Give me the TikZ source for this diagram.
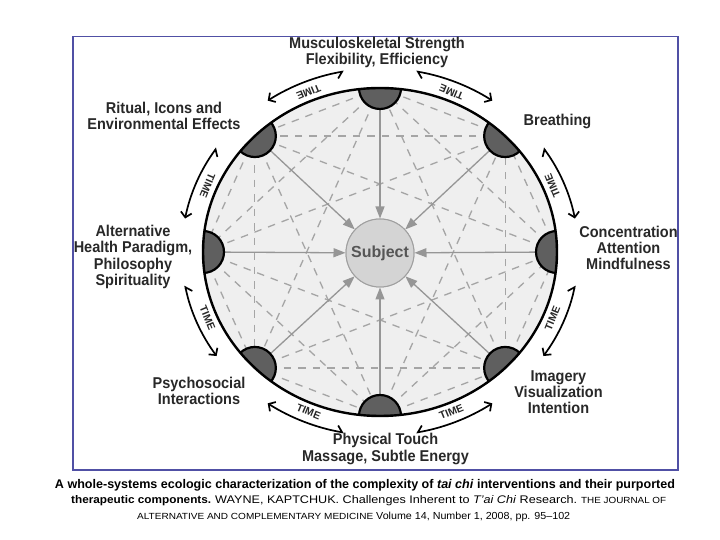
\documentclass[tikz,border=0pt]{standalone}
\usepackage{fontspec}
\setmainfont{Liberation Sans}
\usetikzlibrary{arrows.meta}
\definecolor{framecol}{RGB}{80,80,165}
\definecolor{innerfill}{RGB}{239,239,239}
\definecolor{chordgray}{RGB}{165,165,165}
\definecolor{radialgray}{RGB}{150,150,150}
\definecolor{nodefill}{RGB}{95,95,95}
\definecolor{labelgray}{RGB}{40,40,40}
\definecolor{hubfill}{RGB}{212,212,212}
\definecolor{hubline}{RGB}{160,160,160}
\definecolor{hubtext}{RGB}{85,85,85}
\tikzset{
  lbl/.style={font=\fontsize{14.5}{15.5}\selectfont\bfseries, text=labelgray, align=center, inner sep=0pt, yscale=1.08, transform shape},
  chord/.style={draw=chordgray, line width=1.3pt, dash pattern=on 7.5pt off 7pt},
  radial/.style={draw=radialgray, line width=1.3pt, -{Triangle[length=12pt,width=9pt]}},
  hub/.style={circle, minimum size=68pt, inner sep=0pt, fill=hubfill, draw=hubline, line width=1pt,
    font=\fontsize{16}{16}\selectfont\bfseries, text=hubtext},
  halfdisc/.style={fill=nodefill, draw=black, line width=2.2pt},
  rim/.style={draw=black, line width=2.4pt},
  timeL/.style={line width=1.7pt, {Straight Barb[harpoon,length=5pt,width=12pt]}-{Straight Barb[length=5pt,width=11pt]}},
  timeR/.style={line width=1.7pt, {Straight Barb[harpoon,swap,length=5pt,width=12pt]}-{Straight Barb[length=5pt,width=11pt]}},
  timelbl/.style={font=\fontsize{10.5}{10.5}\selectfont\bfseries, text=labelgray, inner sep=0pt},
  framebox/.style={draw=framecol, line width=1.5pt},
  caption/.style={inner sep=0pt, text=black}
}
\begin{document}
\begin{tikzpicture}[x=1pt,y=1pt]
\useasboundingbox (0,0) rectangle (720,540);
\fill[white] (0,0) rectangle (720,540);
% frame
\draw[framebox] (73,70) rectangle (678,503.5);
% big circle fill
\fill[innerfill] (380,288) ellipse [x radius=177, y radius=164];
% rim points
\foreach \i in {0,...,7}{
  \coordinate (n\i) at ({380+177*cos(45*\i)},{288+164*sin(45*\i)});
}
% hub
\node[hub] (subj) at (380,287) {Subject};
% dashed chords
\foreach \i in {0,...,7}{
  \foreach \d in {1,2,3}{
    \pgfmathtruncatemacro\j{mod(\i+\d,8)}
    \draw[chord] (n\i) -- (n\j);
  }
}
% radial arrows
\foreach \i in {0,...,7}{
  \draw[radial] (n\i) -- (subj);
}
\node[hub] (subjtop) at (subj) {Subject};
% half discs
\begin{scope}
  \clip (380,288) ellipse [x radius=177, y radius=164];
  \foreach \i in {0,...,7}{
    \filldraw[halfdisc] (n\i) ++({45*\i+90}:21) arc[start angle={45*\i+90}, delta angle=180, radius=21] -- cycle;
  }
\end{scope}
\draw[rim] (380,288) ellipse [x radius=177, y radius=164];
% time arrows
\foreach \c/\s/\st [count=\k] in {22.5/1/timeL, 67.5/1/timeL, 112.5/-1/timeR, 157.5/-1/timeR, 202.5/-1/timeR, 247.5/1/timeL, 292.5/-1/timeR, 337.5/1/timeL}{
  \pgfmathsetmacro\h{\c+12*\s}
  \pgfmathsetmacro\v{\c-12*\s}
  \coordinate (ts\k) at ({380+198.24*cos(\h)},{288+183.68*sin(\h)});
  \draw[\st] (ts\k) arc[start angle=\h, end angle=\v, x radius=198.24, y radius=183.68];
  \node[timelbl, rotate=\c+90] (tl\k) at ({380+186.7*cos(\c)},{288+173*sin(\c)}) {TIME};
}
% labels
\node[lbl] (lmus) at (377,487.5) {Musculoskeletal Strength\\Flexibility, Efficiency};
\node[lbl] (lrit) at (164,424) {Ritual, Icons and\\Environmental Effects};
\node[lbl] (lbre) at (557.5,419) {Breathing};
\node[lbl, font=\fontsize{14.5}{15}\selectfont\bfseries] (lalt) at (133,283) {Alternative\\Health Paradigm,\\Philosophy\\Spirituality};
\node[lbl, font=\fontsize{14.5}{14.5}\selectfont\bfseries] (lcon) at (628.5,292) {Concentration\\Attention\\Mindfulness};
\node[lbl, font=\fontsize{14.5}{14.5}\selectfont\bfseries] (lpsy) at (199,149) {Psychosocial\\Interactions};
\node[lbl, font=\fontsize{14.5}{15}\selectfont\bfseries] (limg) at (558.5,148) {Imagery\\Visualization\\Intention};
\node[lbl] (lphy) at (385.5,91) {Physical Touch\\Massage, Subtle Energy};
% caption
\node[caption] (cap1) at (365,55) {\resizebox{620pt}{!}{\bfseries A whole-systems ecologic characterization of the complexity of \textit{tai chi} interventions and their purported}};
\node[caption, anchor=base west] (cap2) at (71,36) {\resizebox{140pt}{8pt}{\bfseries therapeutic components.}\hspace{4pt}\resizebox{362pt}{8pt}{WAYNE, KAPTCHUK. Challenges Inherent to \textit{T’ai Chi} Research.}\hspace{4pt}\resizebox{85pt}{6.2pt}{THE JOURNAL OF}};
\node[caption, anchor=base west] (cap3) at (137,20) {\resizebox{236pt}{6.2pt}{ALTERNATIVE AND COMPLEMENTARY MEDICINE}\hspace{3pt}\resizebox{194pt}{7.4pt}{Volume 14, Number 1, 2008, pp. 95–102}};
\end{tikzpicture}
\end{document}
